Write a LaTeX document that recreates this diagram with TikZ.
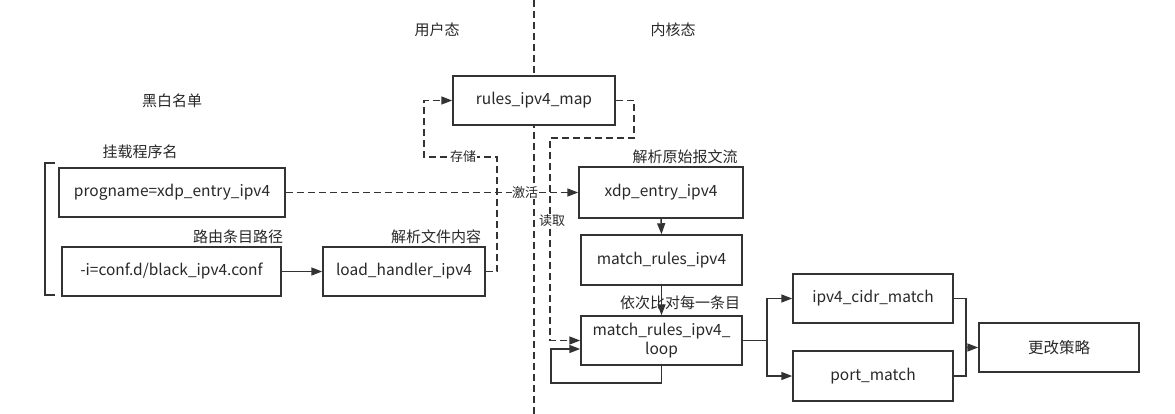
\documentclass[tikz,border=0pt]{standalone}
\usepackage{fontspec}
\setmainfont{Noto Sans CJK SC}
\usetikzlibrary{arrows.meta}
\definecolor{ink}{RGB}{51,51,51}
\definecolor{txt}{RGB}{40,40,40}
\begin{document}
\begin{tikzpicture}[x=1pt,y=-1pt,
  box/.style={draw=ink,line width=1.5pt,fill=white,inner sep=0pt,text=txt,font=\fontsize{15.5}{20}\selectfont,align=center},
  lbl/.style={inner sep=1pt,text=txt,font=\fontsize{15}{18}\selectfont},
  elbl/.style={inner sep=0.5pt,fill=white,text=txt,font=\fontsize{13}{15}\selectfont},
  conn/.style={draw=ink,line width=1.5pt},
  dashconn/.style={conn,dash pattern=on 7pt off 4pt},
  arr/.style={-{Triangle[length=11pt,width=8pt]}}]
\useasboundingbox (0,0) rectangle (1175,414);
% divider
\coordinate (divtop) at (534,0);
\coordinate (divbot) at (534,414);
\draw[dashconn] (divtop) -- (divbot);
% labels
\node[lbl] (user) at (437,30) {用户态};
\node[lbl] (kern) at (673,30) {内核态};
\node[lbl] (bw) at (172,101) {黑白名单};
\node[lbl] (mount) at (140,152) {挂载程序名};
\node[lbl] (route) at (238,237) {路由条目路径};
\node[lbl] (parsefile) at (436,237) {解析文件内容};
\node[lbl] (parsepkt) at (685,157) {解析原始报文流};
\node[lbl] (cmp) at (680,303) {依次比对每一条目};
% bracket
\draw[conn] (55,163) -- (45,163) -- (45,295) -- (55,295);
% boxes
\node[box,minimum width=162pt,minimum height=49pt] (map) at (534,100.5) {rules\_ipv4\_map};
\node[box,minimum width=226pt,minimum height=49pt] (prog) at (172,192.5) {progname=xdp\_entry\_ipv4};
\node[box,minimum width=219pt,minimum height=49pt] (conf) at (171.5,271.5) {-i=conf.d/black\_ipv4.conf};
\node[box,minimum width=162pt,minimum height=49pt] (load) at (404,271.5) {load\_handler\_ipv4};
\node[box,minimum width=164pt,minimum height=51pt] (xdp) at (661,192.5) {xdp\_entry\_ipv4};
\node[box,minimum width=161pt,minimum height=50pt] (match) at (661.5,260) {match\_rules\_ipv4};
\node[box,minimum width=161pt,minimum height=49pt] (loop) at (661.5,340.5) {match\_rules\_ipv4\_\\[-1pt]loop};
\node[box,minimum width=160pt,minimum height=49pt] (cidr) at (873,298.5) {ipv4\_cidr\_match};
\node[box,minimum width=160pt,minimum height=50pt] (port) at (873,376) {port\_match};
\node[box,minimum width=160pt,minimum height=49pt] (change) at (1059,347.5) {更改策略};
% connectors
\draw[conn,arr] (conf.east) -- (load.west);
\draw[dashconn,arr] (load.east) -- (497,271.5) -- (497,157) -- (424,157) -- (424,100.5) -- (map.west);
\node[elbl] (store) at (463,157) {存储};
\draw[dashconn,arr] (prog.east) -- (xdp.west);
\node[elbl] (act) at (525,193) {激活};
\draw[dashconn,arr] (map.east) -- (634,100.5) -- (634,138) -- (550,138) -- (550,340.5) -- (loop.west);
\node[elbl] (read) at (552,221) {读取};
\draw[conn,arr] (xdp.south) -- (match.north);
\draw[conn,arr] (match.south) -- (loop.north);
\draw[conn,arr] (loop.south) -- (661.5,383) -- (551,383) -- (551,349) -- ([yshift=-8.5pt]loop.west);
\coordinate (split) at (767,340.5);
\draw[conn] (loop.east) -- (split);
\draw[conn,arr] (split) |- (cidr.west);
\draw[conn,arr] (split) |- (port.west);
\coordinate (merge) at (966,347.5);
\draw[conn] (cidr.east) -| (merge);
\draw[conn] (port.east) -| (merge);
\draw[conn,arr] (merge) -- (change.west);
\end{tikzpicture}
\end{document}
